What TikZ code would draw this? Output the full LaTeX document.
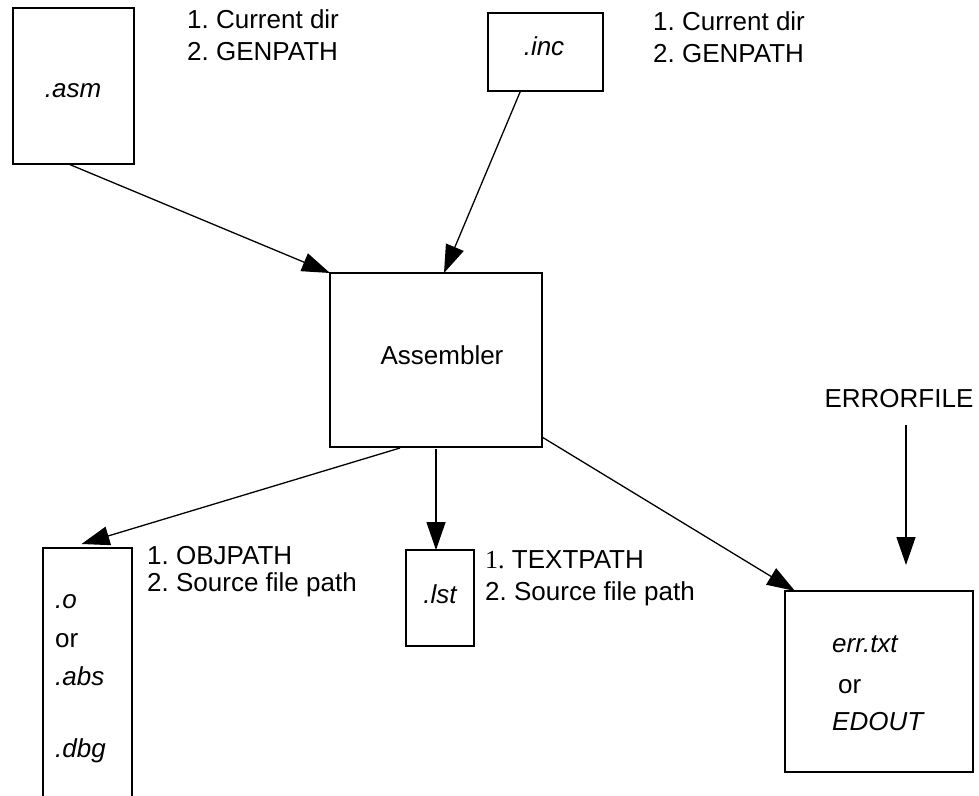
\documentclass[tikz,border=0pt]{standalone}
\usepackage{fontspec}
\setmainfont{Liberation Sans}
\newfontfamily\timesfont{Liberation Serif}
\usetikzlibrary{arrows.meta}
\frenchspacing
\begin{document}
\begin{tikzpicture}[x=1pt,y=-1pt,
  every node/.style={font=\fontsize{26}{32}\selectfont\frenchspacing},
  box/.style={draw, line width=1.3pt, inner sep=0pt, outer sep=0pt},
  lab/.style={inner sep=0pt, anchor=base west},
  ctr/.style={inner sep=0pt, anchor=base},
  conn/.style={line width=1.3pt, -{Triangle[length=28pt,width=19pt]}}]
\useasboundingbox (0,0) rectangle (979,795);
\clip (0,0) rectangle (979,795);
% boxes
\node[box, minimum width=121pt, minimum height=156pt] (asm) at (73.5,86) {};
\node[box, minimum width=115pt, minimum height=78pt] (inc) at (545.5,52) {};
\node[box, minimum width=212pt, minimum height=174pt] (asmb) at (436,360) {};
\node[box, minimum width=89pt, minimum height=272pt] (obox) at (87.5,684) {};
\node[box, minimum width=68pt, minimum height=96pt] (lst) at (440,598) {};
\node[box, minimum width=188pt, minimum height=181pt] (err) at (879,681.5) {};
% box texts
\node[ctr] (tasm) at (73,97) {\itshape .asm};
\node[ctr] (tinc) at (544,55) {\itshape .inc};
\node[ctr] (tasmb) at (442,364) {Assembler};
\node[ctr] (tlst) at (440,603) {\itshape .lst};
\node[lab] (to) at (55,608) {\itshape .o};
\node[lab] (tor1) at (55,647) {or};
\node[lab] (tabs) at (55,685) {\itshape .abs};
\node[lab] (tdbg) at (55,757) {\itshape .dbg};
\node[lab] (terr) at (832,652) {\itshape err.txt};
\node[lab] (tor2) at (838,693) {or};
\node[lab] (tedout) at (832,730) {\itshape EDOUT};
% labels
\node[lab] (l1a) at (187,28) {1. Current dir};
\node[lab] (l1b) at (187,60) {2. GENPATH};
\node[lab] (l2a) at (653,30) {1. Current dir};
\node[lab] (l2b) at (653,62) {2. GENPATH};
\node[lab] (l3a) at (147,564) {1. OBJPATH};
\node[lab] (l3b) at (147,591) {2. Source file path};
\node[lab] (l4a) at (485,568) {{\timesfont 1.} TEXTPATH};
\node[lab] (l4b) at (485,600) {2. Source file path};
\node[ctr] (ef) at (899,407) {ERRORFILE};
\coordinate (eftip) at (906,565);
% connectors
\draw[conn] ([xshift=-5pt]asm.south) -- (asmb.north west);
\draw[conn] ([xshift=-25pt]inc.south) -- ([xshift=8pt]asmb.north);
\draw[conn] ([xshift=-36pt,yshift=-1pt]asmb.south) -- ([xshift=-6pt,yshift=4pt]obox.north);
\draw[conn] ([yshift=-2pt]asmb.south) -- (asmb.south |- lst.north);
\draw[conn] ([yshift=10pt]asmb.south east) -- ([xshift=10pt]err.north west);
\draw[conn] (906,425) -- (eftip);
\end{tikzpicture}
\end{document}
